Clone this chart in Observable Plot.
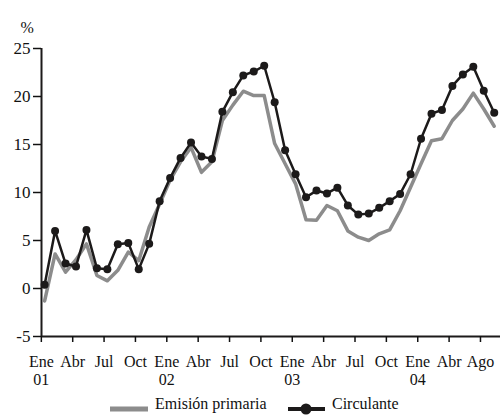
<!DOCTYPE html>
<html><head><meta charset="utf-8">
<script src="https://cdn.jsdelivr.net/npm/d3@7"></script>
<script src="https://cdn.jsdelivr.net/npm/@observablehq/plot@0.6"></script>
<style>
body{margin:0;background:#fff;}
#legend{position:relative;height:28px;font-family:'Liberation Serif';font-size:16px;color:#111}
#legend .sw{position:absolute;top:0}
#legend .lb{position:absolute;top:5px;line-height:18px;white-space:nowrap}
</style></head><body>
<div id="chart"></div>
<div id="legend"></div>
<script>
const meses = ["Ene 01","Feb 01","Mar 01","Abr 01","May 01","Jun 01","Jul 01","Ago 01","Sep 01","Oct 01","Nov 01","Dic 01",
"Ene 02","Feb 02","Mar 02","Abr 02","May 02","Jun 02","Jul 02","Ago 02","Sep 02","Oct 02","Nov 02","Dic 02",
"Ene 03","Feb 03","Mar 03","Abr 03","May 03","Jun 03","Jul 03","Ago 03","Sep 03","Oct 03","Nov 03","Dic 03",
"Ene 04","Feb 04","Mar 04","Abr 04","May 04","Jun 04","Jul 04","Ago 04"];
const emision = [-1.3,3.6,1.7,3.0,4.65,1.35,0.8,1.9,3.8,2.9,6.4,8.8,11.3,13.2,14.7,12.1,13.2,17.5,19.1,20.55,20.1,20.1,15.1,13.0,10.9,7.15,7.1,8.65,8.1,6.0,5.35,5.0,5.7,6.1,8.1,10.55,13.0,15.4,15.6,17.5,18.7,20.35,18.7,16.9];
const circulante = [0.4,6.0,2.6,2.3,6.1,2.1,2.0,4.6,4.75,2.0,4.65,9.1,11.5,13.6,15.2,13.75,13.5,18.4,20.45,22.2,22.6,23.2,19.4,14.4,11.9,9.5,10.2,9.9,10.5,8.65,7.7,7.8,8.4,9.1,9.85,11.9,15.6,18.2,18.6,21.1,22.3,23.1,20.6,18.3];
const tickPos = [0,3,6,9,12,15,18,21,24,27,30,33,36,39,42];
const tickLabels = ["Ene\n01","Abr","Jul","Oct","Ene\n02","Abr","Jul","Oct","Ene\n03","Abr","Jul","Oct","Ene\n04","Abr","Ago"];
const yTicks = [-5,0,5,10,15,20,25];
const series = ["Emisión primaria","Circulante"];

const labelMap = new Map(tickPos.map((p,i)=>[p,tickLabels[i]]));
const dE = emision.map((v,i)=>({i, mes: meses[i], v}));
const dC = circulante.map((v,i)=>({i, mes: meses[i], v}));
const GRAY = "#8c8c8c", BLACK = "#1c1a1a";

const chart = Plot.plot({
  width: 500, height: 390,
  marginLeft: 41, marginRight: 0, marginTop: 48, marginBottom: 54,
  style: {fontSize: "16px", color: "#111", background: "white"},
  x: {domain: [-0.3, 43.6], axis: null},
  y: {domain: [-5, 25], axis: null},
  marks: [
    Plot.ruleX([-0.3], {stroke: BLACK, strokeWidth: 2}),
    Plot.ruleY([-5], {stroke: BLACK, strokeWidth: 2}),
    Plot.axisY({ticks: yTicks, label: null, tickSize: 8, tickPadding: 3, strokeWidth: 1.5, fontSize: 17, tickFormat: d => String(d)}),
    Plot.axisX({ticks: tickPos, label: null, tickFormat: d => labelMap.get(d), tickSize: 6, tickPadding: 11, dx: -3.3, strokeWidth: 1.5, lineHeight: 1.15, fontSize: 16}),
    Plot.line(dE, {x: "i", y: "v", stroke: GRAY, strokeWidth: 3.5}),
    Plot.line(dC, {x: "i", y: "v", stroke: BLACK, strokeWidth: 2.5}),
    Plot.dot(dC, {x: "i", y: "v", r: 4, fill: BLACK}),
    Plot.text(["%"], {frameAnchor: "top-left", dx: -21, dy: -27, textAnchor: "start", fontSize: 16})
  ]
});
document.getElementById("chart").appendChild(chart);
chart.querySelectorAll("text, tspan, g").forEach(el => {
  el.setAttribute("font-family", "Liberation Serif");
  el.style.setProperty("font-family", "'Liberation Serif'", "important");
});
chart.style.setProperty("font-family", "'Liberation Serif'", "important");

const legend = document.getElementById("legend");
legend.innerHTML =
  `<svg class="sw" style="left:108px" width="42" height="28"><line x1="2" x2="40" y1="19" y2="19" stroke="${GRAY}" stroke-width="5"/></svg>` +
  `<span class="lb" style="left:155px">${series[0]}</span>` +
  `<svg class="sw" style="left:286px" width="42" height="28"><line x1="2" x2="39" y1="19" y2="19" stroke="${BLACK}" stroke-width="4"/><circle cx="20" cy="19" r="5.5" fill="${BLACK}"/></svg>` +
  `<span class="lb" style="left:332px">${series[1]}</span>`;
</script>
</body></html>
